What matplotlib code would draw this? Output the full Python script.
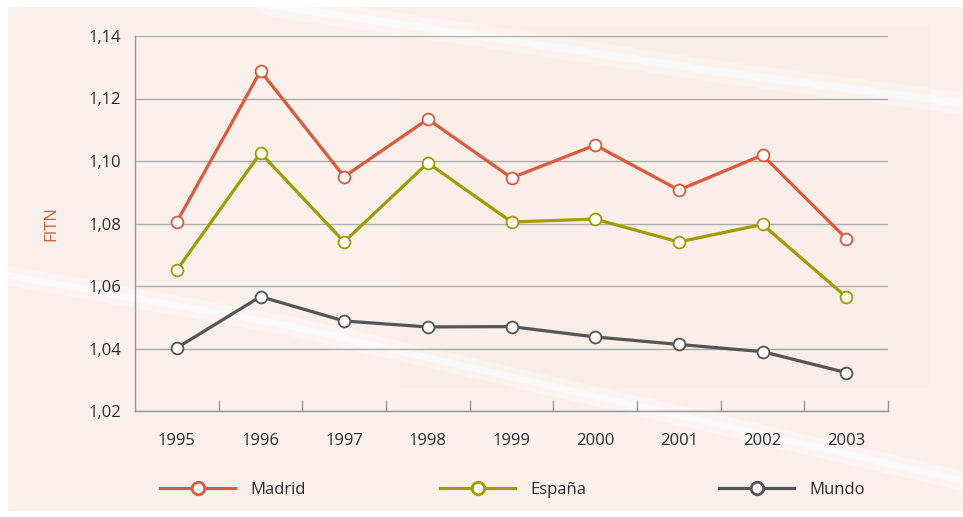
import matplotlib.pyplot as plt
from matplotlib.lines import Line2D
from matplotlib.patches import Rectangle
from matplotlib.ticker import FuncFormatter

plt.rcParams["font.family"] = ["Open Sans", "DejaVu Sans"]

years = [1995, 1996, 1997, 1998, 1999, 2000, 2001, 2002, 2003]
madrid = [1.0805, 1.1288, 1.0950, 1.1134, 1.0946, 1.1051, 1.0907, 1.1019, 1.0752]
espana = [1.0651, 1.1026, 1.0741, 1.0994, 1.0805, 1.0814, 1.0741, 1.0797, 1.0565]
mundo = [1.0402, 1.0566, 1.0488, 1.0469, 1.0470, 1.0437, 1.0413, 1.0390, 1.0323]
series_names = ["Madrid", "España", "Mundo"]
colors = ["#e0583a", "#a39a00", "#555555"]
y_ticks = [1.02, 1.04, 1.06, 1.08, 1.10, 1.12, 1.14]

fig = plt.figure(figsize=(9.63, 5.17), dpi=100)
fig.patch.set_facecolor("white")

# peach background panel
fig.patches.append(Rectangle((8 / 963, 0.012), 1, 1 - 7 / 517 - 0.012, transform=fig.transFigure,
                             facecolor="#fbf1ec", edgecolor="none", zorder=-10))
fig.patches.append(Rectangle((400 / 963, 0.25), 0.55, 0.7, transform=fig.transFigure,
                             facecolor="#f8e6dd", edgecolor="none", alpha=0.25, zorder=-9))
# faint white streaks
for xs, ys, lw in [([0.28, 0.5, 0.75, 1.0], [0.99, 0.93, 0.86, 0.80], 16),
                   ([0.0, 0.3, 0.65, 1.0], [0.47, 0.37, 0.22, 0.07], 14)]:
    fig.add_artist(Line2D(xs, ys, transform=fig.transFigure, color="white",
                          lw=lw, alpha=0.3, solid_capstyle="round", zorder=-8))
    fig.add_artist(Line2D(xs, ys, transform=fig.transFigure, color="white",
                          lw=lw * 0.35, alpha=0.45, solid_capstyle="round", zorder=-8))

ax = fig.add_axes([135 / 963, 1 - 411 / 517, 753 / 963, 375 / 517])
ax.set_facecolor("none")

for vals, c in zip([madrid, espana, mundo], colors):
    ax.plot(years, vals, color=c, lw=2.3, marker="o", markersize=8.5,
            markerfacecolor="white", markeredgecolor=c, markeredgewidth=1.3, zorder=3)

ax.set_xlim(1994.5, 2003.5)
ax.set_ylim(1.02, 1.14)
ax.set_yticks(y_ticks)
ax.yaxis.set_major_formatter(FuncFormatter(lambda v, p: f"{v:.2f}".replace(".", ",")))
ax.set_xticks(years)
ax.set_xticks([y + 0.5 for y in years], minor=True)
ax.tick_params(axis="x", which="major", length=0, pad=16, labelsize=12, labelcolor="#2b2b2b")
ax.tick_params(axis="x", which="minor", direction="in", length=8, width=1, color="#999999")
ax.tick_params(axis="y", length=0, pad=10, labelsize=12, labelcolor="#2b2b2b")

ax.grid(axis="y", color="#aaaaaa", lw=1)
for s in ["top", "right"]:
    ax.spines[s].set_visible(False)
for s in ["left", "bottom"]:
    ax.spines[s].set_color("#999999")
    ax.spines[s].set_linewidth(1)

ax.set_ylabel("FITN", color="#e0583a", fontsize=12)
ax.yaxis.set_label_coords(-0.1, 0.5)

# legend entries spread across the bottom
legend_x = [160 / 963, 440 / 963, 719 / 963]
for name, c, lx in zip(series_names, colors, legend_x):
    h = Line2D([], [], color=c, lw=2.3, marker="o", markersize=9,
               markerfacecolor="white", markeredgecolor=c, markeredgewidth=2)
    fig.legend(handles=[h], labels=[name], loc="center left", bbox_to_anchor=(lx, 1 - 490 / 517),
               frameon=False, fontsize=12, handlelength=4.5, handletextpad=0.9,
               borderpad=0, borderaxespad=0, labelcolor="#2b2b2b")

fig.savefig("out.png", dpi=100)
